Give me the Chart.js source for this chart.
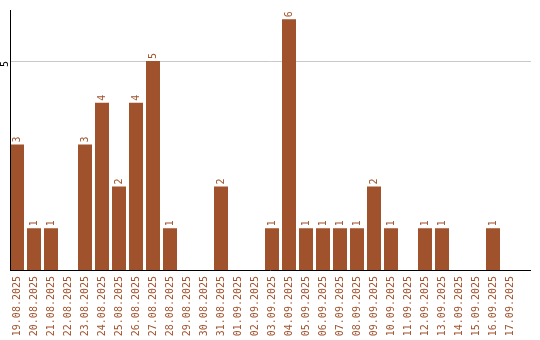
<!DOCTYPE html>
<html>
<head>
<meta charset="utf-8">
<script src="https://cdn.jsdelivr.net/npm/chart.js@4.4.1/dist/chart.umd.min.js"></script>
<style>
  body { margin: 0; background: #fff; }
  canvas { display: block; }
</style>
</head>
<body>
<canvas id="chart" width="540" height="340"></canvas>
<script>
// Daily counts, 19.08.2025 – 17.09.2025
const dates = [
    '19.08.2025', '20.08.2025', '21.08.2025', '22.08.2025', '23.08.2025', '24.08.2025',
    '25.08.2025', '26.08.2025', '27.08.2025', '28.08.2025', '29.08.2025', '30.08.2025',
    '31.08.2025', '01.09.2025', '02.09.2025', '03.09.2025', '04.09.2025', '05.09.2025',
    '06.09.2025', '07.09.2025', '08.09.2025', '09.09.2025', '10.09.2025', '11.09.2025',
    '12.09.2025', '13.09.2025', '14.09.2025', '15.09.2025', '16.09.2025', '17.09.2025'
];
const counts = [3, 1, 1, 0, 3, 4, 2, 4, 5, 1, 0, 0, 2, 0, 0, 1, 6, 1, 1, 1, 1, 2, 1, 0, 1, 1, 0, 0, 1, 0];
const yTicks = [5];
const yMax = 6.22;

const BROWN = '#a0522d';
const FONT = '10px "DejaVu Sans Mono", monospace';

// axes, grid, the rotated y tick and the value labels
const decorations = {
    id: 'decorations',
    beforeDatasetsDraw(chart) {
        const { ctx, chartArea, scales } = chart;
        const left = 10, right = 531;
        ctx.save();
        ctx.strokeStyle = '#c8c8c8';
        ctx.lineWidth = 1;
        yTicks.forEach(v => {
            const y = Math.round(scales.y.getPixelForValue(v)) + 0.5;
            ctx.beginPath();
            ctx.moveTo(left, y);
            ctx.lineTo(right, y);
            ctx.stroke();
        });
        ctx.restore();
    },
    afterDatasetsDraw(chart) {
        const { ctx, chartArea, scales } = chart;
        const left = 10, right = 531;
        const bottom = Math.round(scales.y.getPixelForValue(0));
        ctx.save();
        ctx.strokeStyle = '#000';
        ctx.lineWidth = 1;
        ctx.beginPath();
        ctx.moveTo(left + 0.5, chartArea.top);
        ctx.lineTo(left + 0.5, bottom + 1);
        ctx.moveTo(left, bottom + 0.5);
        ctx.lineTo(right, bottom + 0.5);
        ctx.stroke();

        ctx.font = FONT;
        ctx.textBaseline = 'middle';
        // y tick labels, rotated
        ctx.fillStyle = '#000';
        ctx.textAlign = 'right';
        yTicks.forEach(v => {
            const y = scales.y.getPixelForValue(v);
            ctx.save();
            ctx.translate(5, y);
            ctx.rotate(-Math.PI / 2);
            ctx.fillText(String(v), 0, 0);
            ctx.restore();
        });

        // value labels above bars
        ctx.fillStyle = BROWN;
        ctx.textAlign = 'left';
        chart.getDatasetMeta(0).data.forEach((bar, i) => {
            if (!counts[i]) return;
            ctx.save();
            ctx.translate(bar.x, bar.y - 2);
            ctx.rotate(-Math.PI / 2);
            ctx.fillText(String(counts[i]), 0, 0);
            ctx.restore();
        });
        ctx.restore();
    }
};

new Chart(document.getElementById('chart'), {
    type: 'bar',
    data: {
        labels: dates,
        datasets: [{
            data: counts,
            backgroundColor: BROWN,
            borderWidth: 0,
            categoryPercentage: 1,
            barPercentage: 14 / 17
        }]
    },
    options: {
        responsive: false,
        animation: false,
        devicePixelRatio: 1,
        layout: { padding: { left: 8.5, top: 10, right: 21.5, bottom: 0 } },
        plugins: { legend: { display: false }, tooltip: { enabled: false } },
        scales: {
            x: {
                grid: { display: false, drawTicks: false },
                border: { display: false },
                ticks: {
                    autoSkip: false,
                    minRotation: 90,
                    maxRotation: 90,
                    padding: 6,
                    color: BROWN,
                    font: { family: '"DejaVu Sans Mono", monospace', size: 10 }
                },
                afterFit: s => { s.height = 70; }
            },
            y: {
                display: false,
                min: 0,
                max: yMax
            }
        }
    },
    plugins: [decorations]
});
</script>
</body>
</html>
